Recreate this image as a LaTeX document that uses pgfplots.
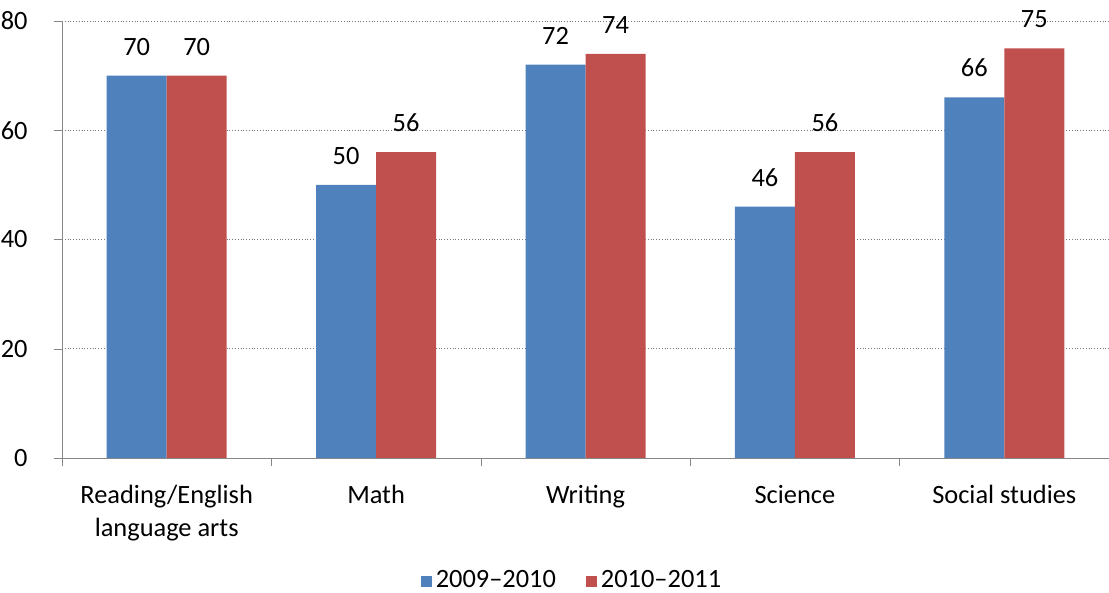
\documentclass[border=0pt]{standalone}
\usepackage{fontspec}
\setmainfont{Carlito}
\usepackage{pgfplots}
\pgfplotsset{compat=1.18}
\definecolor{cblue}{HTML}{4F81BD}
\definecolor{cred}{HTML}{C0504D}
\definecolor{cgrid}{HTML}{868686}
\begin{document}
\fontsize{13.2bp}{16.5bp}\selectfont
\begin{tikzpicture}
\useasboundingbox (0,0) rectangle (554.5bp,296.5bp);
\begin{axis}[
  at={(31bp,67.5bp)}, anchor=south west,
  scale only axis, width=523.5bp, height=218.5bp,
  ybar=0pt, bar width=30bp,
  xmin=-0.5, xmax=4.5, ymin=0, ymax=80,
  ytick={0,20,40,60,80},
  xtick={0,1,2,3,4},
  xticklabels={{Reading/English\\language arts},Math,Writing,Science,Social studies},
  minor xtick={-0.5,0.5,1.5,2.5,3.5,4.5},
  major x tick style={draw=none},
  minor tick length=4bp, major tick length=4bp,
  tick align=outside,
  axis lines*=left,
  axis line style={cgrid,-},
  tick style={cgrid},
  ymajorgrids, grid style={cgrid!90!black, densely dotted},
  /pgf/number format/assume math mode=true,
  tick label style={font=\fontsize{13.2bp}{16.5bp}\selectfont},
  yticklabel style={anchor=east, inner sep=0pt, xshift=-13bp},
  xticklabel style={anchor=north, inner sep=0pt, yshift=-9.5bp, align=center},
  nodes near coords,
  every node near coord/.append style={anchor=south, inner sep=0pt, yshift=10bp, font=\fontsize{13.2bp}{16.5bp}\selectfont, text=black},
  legend columns=2,
  legend style={draw=none, fill=none, at={(0.488,-0.2815)}, anchor=center,
    font=\fontsize{13.2bp}{16.5bp}\selectfont,
    /tikz/every even column/.append style={column sep=13bp},
    nodes={inner sep=2pt}},
  legend image code/.code={\fill[#1] (0bp,-2.75bp) rectangle (5.5bp,2.75bp);},
]
\addplot[fill=cblue, draw=none] coordinates {(0,70) (1,50) (2,72) (3,46) (4,66)};
\addplot[fill=cred, draw=none] coordinates {(0,70) (1,56) (2,74) (3,56) (4,75)};
\legend{2009--2010, 2010--2011}
\end{axis}
\end{tikzpicture}
\end{document}
